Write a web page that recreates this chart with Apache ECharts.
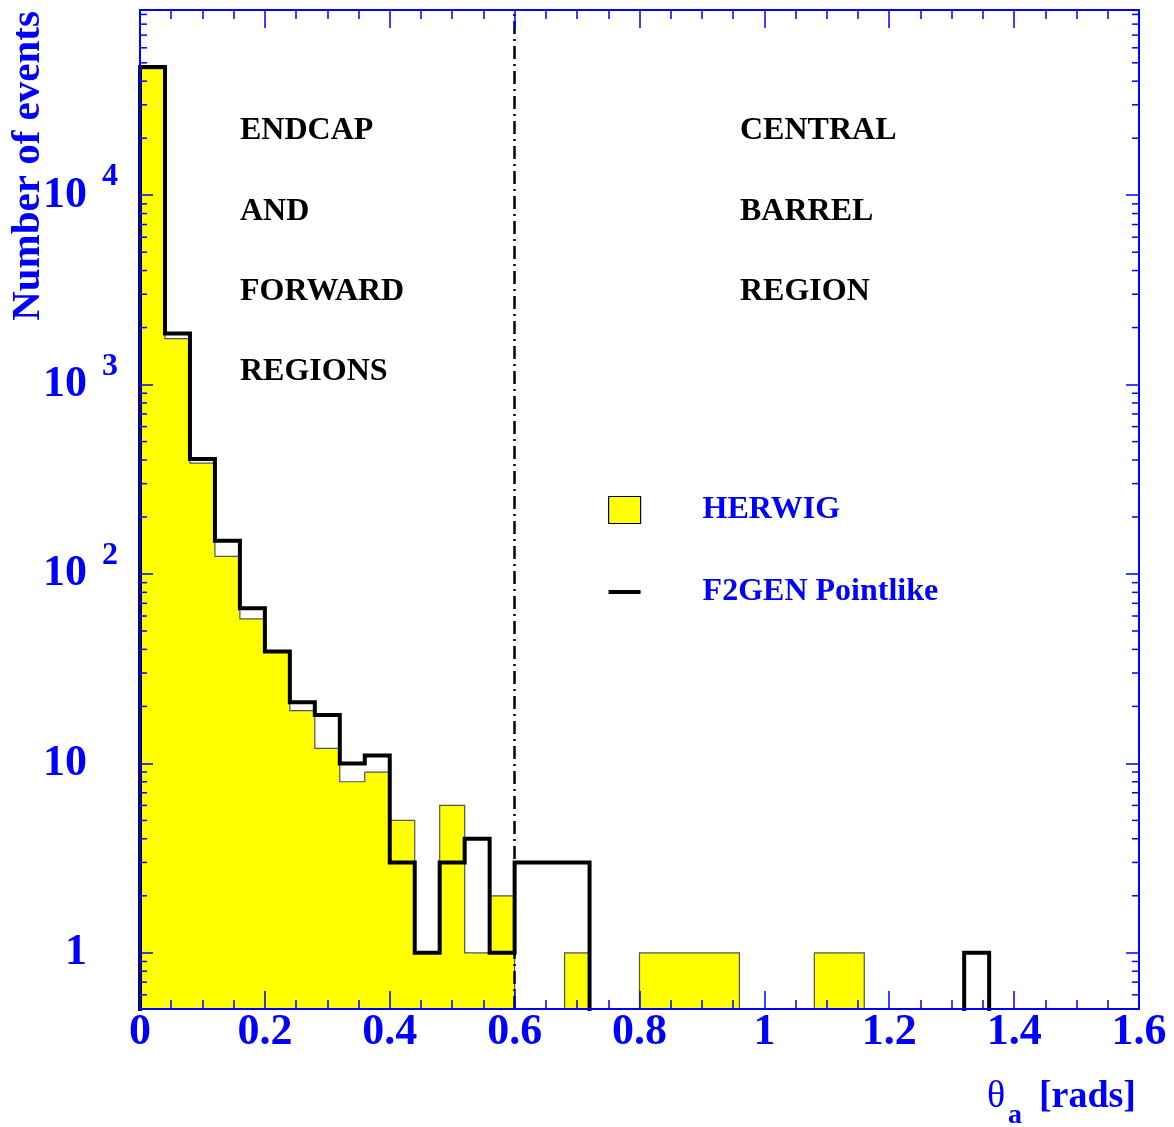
<!DOCTYPE html>
<html>
<head>
<meta charset="utf-8">
<title>Number of events vs theta_a</title>
<script src="https://cdn.jsdelivr.net/npm/echarts@6/dist/echarts.min.js"></script>
<style>
  html, body { margin: 0; padding: 0; background: #fff; }
  #chart { width: 1174px; height: 1127px; }
</style>
</head>
<body>
<div id="chart"></div>
<script>
// Histogram binning: 40 bins of 0.04 rad from 0 to 1.6
const binStart = 0;
const binWidth = 0.04;

// HERWIG event counts per bin
const herwigCounts = [
  46500, 1750, 385, 124, 58, 39, 19, 12, 8, 9,
  5, 1, 6, 1, 2, 0, 0, 1, 0, 0,
  1, 1, 1, 1, 0, 0, 0, 1, 1, 0,
  0, 0, 0, 0, 0, 0, 0, 0, 0, 0
];

// F2GEN Pointlike event counts per bin
const f2genCounts = [
  47500, 1860, 405, 150, 66, 39, 21, 18, 10, 11,
  3, 1, 3, 4, 1, 3, 3, 3, 0, 0,
  0, 0, 0, 0, 0, 0, 0, 0, 0, 0,
  0, 0, 0, 1, 0, 0, 0, 0, 0, 0
];

// Axis tick labels
const xTickValues = [0, 0.2, 0.4, 0.6, 0.8, 1, 1.2, 1.4, 1.6];
const xTickLabels = ['0', '0.2', '0.4', '0.6', '0.8', '1', '1.2', '1.4', '1.6'];
const yTickValues = [1, 10, 100, 1000, 10000];
const yTickBase = ['1', '10', '10', '10', '10'];
const yTickExp = ['', '', '2', '3', '4'];

// Region boundary and annotations
const regionBoundary = 0.6;
const leftRegionText = ['ENDCAP', 'AND', 'FORWARD', 'REGIONS'];
const rightRegionText = ['CENTRAL', 'BARREL', 'REGION'];

const xMin = 0, xMax = 1.6, yMin = 0.505, yMax = 95000;
const BLUE = '#0000ff';
const SERIF = '"Liberation Serif", "Times New Roman", serif';

// Step outline of a histogram, split into runs wherever the count drops to zero
function outlineRuns(values) {
  const runs = [];
  let pts = [];
  let prev = 0;
  values.forEach(function (cur, i) {
    const x0 = binStart + i * binWidth;
    const x1 = x0 + binWidth;
    if (cur > 0 || prev > 0) {
      if (!pts.length) pts.push([x0, prev]);
      pts.push([x0, cur]);
    }
    if (cur > 0) {
      pts.push([x1, cur]);
    } else if (pts.length) {
      runs.push(pts);
      pts = [];
    }
    prev = cur;
  });
  if (pts.length) {
    pts.push([binStart + values.length * binWidth, 0]);
    runs.push(pts);
  }
  return runs;
}

function histRenderer(values, fill, stroke, lineWidth) {
  const runs = outlineRuns(values);
  return function (params, api) {
    const toPx = function (p) { return api.coord([p[0], p[1] > 0 ? p[1] : yMin]); };
    const children = [];
    runs.forEach(function (run) {
      const px = run.map(toPx);
      if (fill) {
        children.push({ type: 'polygon', shape: { points: px }, style: { fill: fill, stroke: 'none' } });
      }
    });
    runs.forEach(function (run) {
      const px = run.map(toPx);
      children.push({
        type: 'polyline', shape: { points: px },
        style: { fill: 'none', stroke: stroke, lineWidth: lineWidth, lineJoin: 'miter', lineCap: 'square' }
      });
    });
    return { type: 'group', children: children };
  };
}

// Minor log ticks (2..9 per decade) on both vertical frame edges
const yMinorTicks = [];
for (let d = 0.1; d < yMax; d *= 10) {
  for (let k = 2; k <= 9; k++) {
    const v = +(k * d).toPrecision(6);
    if (v > yMin && v < yMax) yMinorTicks.push(v);
  }
}

function yLabel(v) {
  for (let i = 0; i < yTickValues.length; i++) {
    if (Math.abs(Math.log10(v) - Math.log10(yTickValues[i])) < 1e-6) {
      return '{b|' + yTickBase[i] + '}{g| }{s|' + (yTickExp[i] || ' ') + '}';
    }
  }
  return '';
}

function xLabel(v) {
  for (let i = 0; i < xTickValues.length; i++) {
    if (Math.abs(v - xTickValues[i]) < 1e-6) return xTickLabels[i];
  }
  return '';
}

const chart = echarts.init(document.getElementById('chart'), null, { renderer: 'canvas' });

const textStyleBlack = { fontFamily: SERIF, fontWeight: 'bold', fontSize: 32, fill: '#000' };
const graphics = [];
leftRegionText.forEach(function (t, i) {
  graphics.push({ type: 'text', x: 240, y: 131 + i * 80.3,
    style: Object.assign({ text: t, align: 'left', verticalAlign: 'middle' }, textStyleBlack) });
});
rightRegionText.forEach(function (t, i) {
  graphics.push({ type: 'text', x: 740, y: 131 + i * 80.5,
    style: Object.assign({ text: t, align: 'left', verticalAlign: 'middle' }, textStyleBlack) });
});
// Axis titles
graphics.push({ type: 'text', x: 28, y: 166, rotation: Math.PI / 2,
  style: { text: 'Number of events', fontFamily: SERIF, fontWeight: 'bold', fontSize: 41, fill: BLUE, align: 'center', verticalAlign: 'middle' } });
graphics.push({ type: 'text', x: 987, y: 1097,
  style: { text: 'θ', fontFamily: SERIF, fontWeight: 'normal', fontSize: 38, fill: BLUE, align: 'left', verticalAlign: 'middle' } });
graphics.push({ type: 'text', x: 1008, y: 1116,
  style: { text: 'a', fontFamily: SERIF, fontWeight: 'bold', fontSize: 28, fill: BLUE, align: 'left', verticalAlign: 'middle' } });
graphics.push({ type: 'text', x: 1136, y: 1097,
  style: { text: '[rads]', fontFamily: SERIF, fontWeight: 'bold', fontSize: 38, fill: BLUE, align: 'right', verticalAlign: 'middle' } });

const xAxisCommon = {
  type: 'value', min: xMin, max: xMax, interval: 0.2, z: 5,
  axisLine: { show: true, onZero: false, lineStyle: { color: BLUE, width: 2 } },
  axisTick: { show: true, inside: true, length: 18, lineStyle: { color: BLUE, width: 1.5 } },
  minorTick: { show: true, splitNumber: 4, length: 9, lineStyle: { color: BLUE, width: 1.5 } },
  splitLine: { show: false },
  minorSplitLine: { show: false }
};
const yAxisCommon = {
  type: 'log', logBase: 10, min: yMin, max: yMax, z: 5,
  axisLine: { show: true, onZero: false, lineStyle: { color: BLUE, width: 2 } },
  axisTick: { show: true, inside: true, length: 13, lineStyle: { color: BLUE, width: 1.5 } },
  splitLine: { show: false }
};

chart.setOption({
  animation: false,
  backgroundColor: '#fff',
  grid: { left: 140, right: 35, top: 10, bottom: 118, containLabel: false },
  legend: {
    orient: 'vertical', left: 608, top: 494, itemGap: 50, padding: 0,
    itemWidth: 32, itemHeight: 27, selectedMode: false,
    symbolKeepAspect: true,
    textStyle: { fontFamily: SERIF, fontWeight: 'bold', fontSize: 32, color: BLUE, padding: [0, 0, 0, 57] },
    data: [
      { name: 'HERWIG', icon: 'rect', itemStyle: { color: '#ffff00', borderColor: '#000', borderWidth: 1.2 } },
      { name: 'F2GEN Pointlike', icon: 'path://M0,0L32,0L32,4L0,4Z', itemStyle: { color: '#000', borderWidth: 0 } }
    ]
  },
  xAxis: [
    Object.assign({}, xAxisCommon, {
      position: 'bottom',
      axisLabel: { show: true, margin: 2, formatter: xLabel, color: BLUE, fontFamily: SERIF, fontWeight: 'bold', fontSize: 44 }
    }),
    Object.assign({}, xAxisCommon, { position: 'top', axisLabel: { show: false } })
  ],
  yAxis: [
    Object.assign({}, yAxisCommon, {
      position: 'left',
      axisLabel: {
        show: true, margin: 22, formatter: yLabel, color: BLUE, fontFamily: SERIF, fontWeight: 'bold',
        rich: {
          b: { fontSize: 44, lineHeight: 44, fontFamily: SERIF, fontWeight: 'bold', color: BLUE, verticalAlign: 'middle' },
          g: { fontSize: 16, width: 15, lineHeight: 68, fontFamily: SERIF, verticalAlign: 'middle' },
          s: { fontSize: 32, width: 16, lineHeight: 32, fontFamily: SERIF, fontWeight: 'bold', color: BLUE, verticalAlign: 'top' }
        }
      }
    }),
    Object.assign({}, yAxisCommon, { position: 'right', axisLabel: { show: false } })
  ],
  graphic: graphics,
  series: [
    {
      name: 'HERWIG', type: 'custom', z: 2,
      xAxisIndex: 0, yAxisIndex: 0,
      data: [[xMin, 1]],
      encode: { x: 0, y: 1 },
      itemStyle: { color: '#ffff00' },
      renderItem: histRenderer(herwigCounts, '#ffff00', '#555', 1.2),
      silent: true
    },
    {
      name: 'F2GEN Pointlike', type: 'custom', z: 3,
      xAxisIndex: 0, yAxisIndex: 0,
      data: [[xMin, 1]],
      encode: { x: 0, y: 1 },
      itemStyle: { color: '#000' },
      renderItem: histRenderer(f2genCounts, null, '#000', 4),
      silent: true
    },
    {
      name: 'minor ticks', type: 'custom', z: 6,
      xAxisIndex: 0, yAxisIndex: 0,
      data: yMinorTicks.map(function (v) { return [xMin, v]; }),
      encode: { x: 0, y: 1 },
      silent: true,
      renderItem: function (params, api) {
        const v = api.value(1);
        const l = api.coord([xMin, v]);
        const r = api.coord([xMax, v]);
        const st = { stroke: BLUE, lineWidth: 1.5 };
        return { type: 'group', children: [
          { type: 'line', shape: { x1: l[0], y1: l[1], x2: l[0] + 7, y2: l[1] }, style: st },
          { type: 'line', shape: { x1: r[0] - 7, y1: r[1], x2: r[0], y2: r[1] }, style: st }
        ] };
      }
    },
    {
      name: 'boundary', type: 'line', z: 4, data: [], silent: true,
      markLine: {
        silent: true, symbol: ['none', 'none'], label: { show: false },
        lineStyle: { color: '#000', width: 2.5, type: [13, 5, 2, 5] },
        data: [{ xAxis: regionBoundary }]
      }
    }
  ]
});
</script>
</body>
</html>
